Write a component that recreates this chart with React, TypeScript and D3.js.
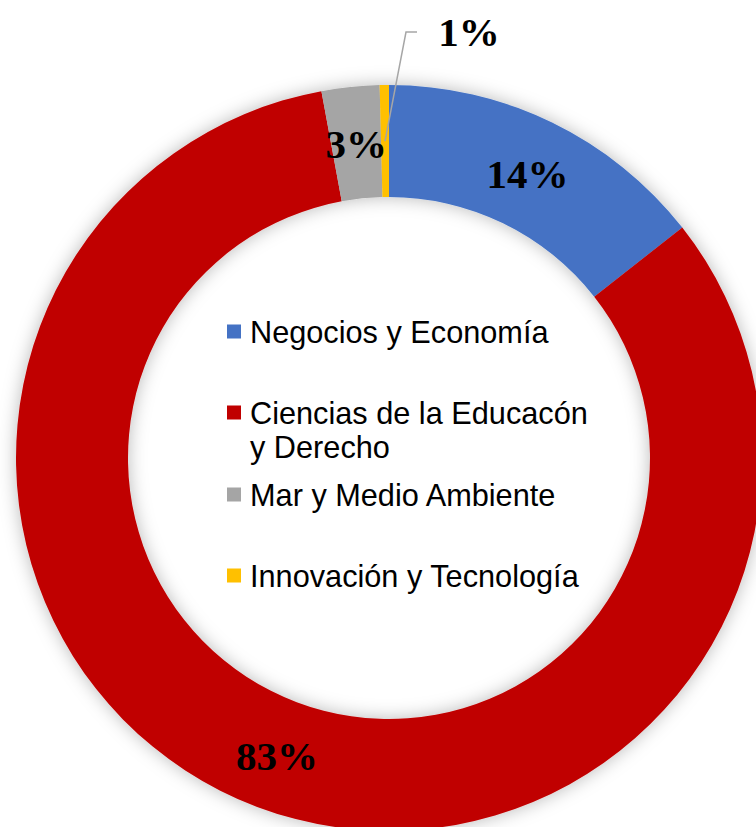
import React from "react";
import * as d3 from "d3";

const categories = [
  "Negocios y Economía",
  "Ciencias de la Educacón y Derecho",
  "Mar y Medio Ambiente",
  "Innovación y Tecnología",
];
const values = [14.4, 82.7, 2.5, 0.4];
const valueLabels = ["14%", "83%", "3%", "1%"];
const colors = ["#4472C4", "#C00000", "#A5A5A5", "#FFC000"];
const legendLines = [
  ["Negocios y Economía"],
  ["Ciencias de la Educacón", "y Derecho"],
  ["Mar y Medio Ambiente"],
  ["Innovación y Tecnología"],
];

const W = 756;
const H = 827;
const cx = 389;
const cy = 458;
const rOuter = 373;
const rInner = 261;

export default function App() {
  const pie = d3.pie<number>().sort(null).value((d) => d);
  const arcs = pie(values);
  const arcGen = d3.arc<d3.PieArcDatum<number>>().innerRadius(rInner).outerRadius(rOuter);
  const labelFont = "'Liberation Serif', 'Times New Roman', serif";
  const legendFont = "'Liberation Sans', Arial, sans-serif";
  const legendY = [332, 413, 495, 576];

  return (
    <svg
      width={W}
      height={H}
      style={{ position: "absolute", left: 0, top: 0, background: "#fff" }}
    >
      <defs>
        <filter id="shadow" x="-20%" y="-20%" width="140%" height="140%">
          <feDropShadow dx="0" dy="0" stdDeviation="9" floodColor="#000" floodOpacity="0.28" />
        </filter>
      </defs>
      <g transform={`translate(${cx},${cy})`}>
        <g filter="url(#shadow)">
          {arcs.map((a, i) => (
            <path key={i} d={arcGen(a) || ""} fill={colors[i]} />
          ))}
        </g>
        {arcs.map((a, i) => {
          const [x, y] = arcGen.centroid(a);
          if (i === 3) {
            const lx = 80;
            const ly = -426;
            return (
              <g key={i}>
                <polyline
                  points={`${x},${y} ${lx - 63},${ly} ${lx - 52},${ly}`}
                  fill="none"
                  stroke="#A6A6A6"
                  strokeWidth={1.5}
                />
                <text
                  x={lx}
                  y={ly + 14}
                  textAnchor="middle"
                  fontFamily={labelFont}
                  fontWeight="bold"
                  fontSize={41}
                  fill="#000"
                >
                  {valueLabels[i]}
                </text>
              </g>
            );
          }
          return (
            <text
              key={i}
              x={x}
              y={y + 15}
              textAnchor="middle"
              fontFamily={labelFont}
              fontWeight="bold"
              fontSize={41}
              fill="#000"
            >
              {valueLabels[i]}
            </text>
          );
        })}
      </g>
      <g>
        {categories.map((c, i) => (
          <g key={c}>
            <rect x={227} y={legendY[i] - 7.5} width={14} height={14} fill={colors[i]} />
            {legendLines[i].map((ln, j) => (
              <text
                key={j}
                x={250}
                y={legendY[i] + 11 + j * 34}
                fontFamily={legendFont}
                fontSize={30.7}
                fill="#000"
              >
                {ln}
              </text>
            ))}
          </g>
        ))}
      </g>
    </svg>
  );
}
